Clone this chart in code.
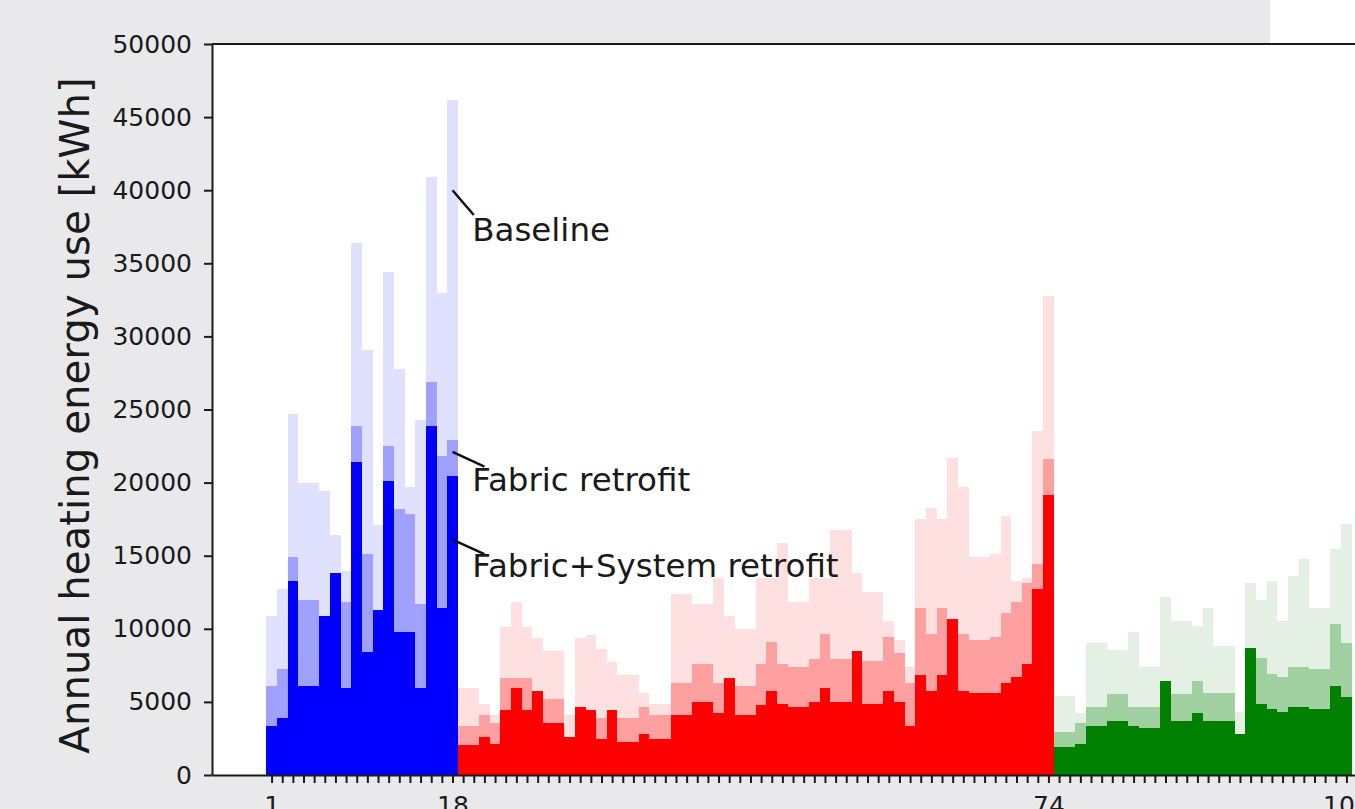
<!DOCTYPE html>
<html>
<head>
<meta charset="utf-8">
<script src="https://cdn.jsdelivr.net/npm/d3@7"></script>
<style>
  html, body { margin: 0; padding: 0; background: #ffffff; }
  svg { display: block; font-family: "DejaVu Sans", sans-serif; }
</style>
</head>
<body>
<div id="chart"></div>
<script>
// Data (annual heating energy use per building, kWh)
const blueBaseline = [10900, 12700, 24700, 19950, 19950, 19400, 16400, 13970, 36400, 29100, 17100, 34400, 27800, 19700, 24300, 40900, 33000, 46200];
const blueFabric   = [6100, 7230, 14900, 12000, 12000, 10900, 13800, 11800, 23900, 15100, 11300, 22500, 18200, 17850, 11700, 26900, 21800, 22900];
const blueSystem   = [3370, 3920, 13300, 6100, 6100, 10900, 13800, 5970, 21400, 8390, 11300, 20100, 9800, 9800, 5970, 23900, 11400, 20450];

const redBaseline = [5930, 5930, 4830, 4100, 10150, 11800, 10150, 9400, 8500, 8500, 4100, 9400, 9600, 8650, 7750, 6850,
  6840, 5590, 4830, 4830, 12360, 12360, 11670, 11670, 13450, 10900, 10000, 10000, 13450, 13450, 15850, 11800, 11800,
  13450, 13450, 16750, 16750, 13850, 12550, 12550, 10500, 9200, 7400, 17500, 18250, 17500, 21700, 19700, 14900, 14900,
  15100, 17700, 13300, 13450, 23550, 32750];
const redFabric = [3370, 3370, 4100, 3530, 6650, 6650, 6650, 5750, 5200, 5200, 2620, 4670, 4450, 3920, 4450, 3880,
  3880, 4670, 4080, 4080, 6270, 6270, 7570, 7570, 6270, 6660, 6090, 6090, 7570, 9070, 7590, 7410, 7410,
  7930, 9620, 7930, 7930, 8500, 7800, 7800, 9420, 8320, 6320, 11400, 9620, 11400, 10700, 9620, 9230, 9230,
  9420, 11100, 11850, 13100, 14400, 21600];
const redSystem = [2050, 2050, 2620, 2100, 4450, 5930, 4450, 5750, 3530, 3530, 2620, 4670, 4450, 2440, 4450, 2260,
  2260, 2800, 2440, 2440, 4080, 4080, 5000, 5000, 4260, 6660, 4080, 4080, 4810, 5770, 4830, 4670, 4670,
  5020, 5930, 5020, 5020, 8500, 4830, 4830, 5770, 5020, 3370, 6840, 5750, 6840, 10700, 5750, 5600, 5600,
  5600, 6270, 6680, 7570, 12700, 19150];

const greenBaseline = [5400, 5400, 4260, 9000, 9000, 8550, 8550, 9800, 7410, 7410, 12200, 10550, 10550, 10200,
  11450, 8850, 8850, 4300, 13100, 12000, 13300, 10550, 13600, 14750, 11450, 11450, 15450, 17150];
const greenFabric = [2960, 2960, 3530, 4630, 4630, 5540, 5540, 4630, 4630, 4630, 6000, 5540, 5540, 6450,
  5590, 5590, 5590, 2800, 8000, 7980, 6910, 6680, 7410, 7410, 7230, 7230, 10330, 9050];
const greenSystem = [1890, 1890, 2100, 3350, 3350, 3720, 3720, 3350, 3190, 3190, 6450, 3720, 3720, 4260,
  3720, 3720, 3720, 2800, 8710, 4860, 4490, 4310, 4670, 4670, 4490, 4490, 6110, 5360];

const xTickLabels = [1, 18, 74, 102];
const yTicks = d3.range(0, 50001, 5000);

const annotations = [
  { label: "Baseline", x: 18, y: 40000, lx: 20, ly: 38300, tx: 19.85, ty: 36500 },
  { label: "Fabric retrofit", x: 18, y: 22100, lx: 21, ly: 21100, tx: 19.85, ty: 19400 },
  { label: "Fabric+System retrofit", x: 18, y: 16100, lx: 21, ly: 15100, tx: 19.85, ty: 13550 }
];

const groups = [
  { name: "blue", colors: ["#e0e0ff", "#a0a0ff", "#0000ff"], series: [blueBaseline, blueFabric, blueSystem] },
  { name: "red", colors: ["#ffe0e0", "#ffa0a0", "#ff0000"], series: [redBaseline, redFabric, redSystem] },
  { name: "green", colors: ["#e3f0e3", "#a0d0a0", "#008000"], series: [greenBaseline, greenFabric, greenSystem] }
];

// flatten into one list of buildings
const buildings = [];
groups.forEach((g) => {
  g.series[0].forEach((v, i) => {
    buildings.push({
      id: buildings.length + 1,
      colors: g.colors,
      values: [g.series[0][i], g.series[1][i], g.series[2][i]]
    });
  });
});

// Dimensions
const dimensions = {
  width: 1355,
  height: 809,
  margin: { top: 44, left: 212, bottom: 34 },
  plotRight: 1406
};

const svg = d3
  .select("#chart")
  .append("svg")
  .attr("width", dimensions.width)
  .attr("height", dimensions.height);

// background (grey page, white corner top right)
svg.append("rect")
  .attr("width", dimensions.width)
  .attr("height", dimensions.height)
  .attr("fill", "#e9e9eb");
svg.append("rect")
  .attr("x", 1270)
  .attr("y", 0)
  .attr("width", dimensions.width - 1270)
  .attr("height", dimensions.margin.top)
  .attr("fill", "#ffffff");

const n = buildings.length;
const pad = 0.05 * n;

// Scales
const xScale = d3
  .scaleLinear()
  .domain([0.5 - pad, n + 0.5 + pad])
  .range([dimensions.margin.left, dimensions.plotRight]);

const yScale = d3
  .scaleLinear()
  .domain([0, 50000])
  .range([dimensions.height - dimensions.margin.bottom, dimensions.margin.top]);

const y0 = yScale(0);

// plot background
svg.append("rect")
  .attr("x", xScale.range()[0])
  .attr("y", yScale(50000))
  .attr("width", xScale.range()[1] - xScale.range()[0])
  .attr("height", y0 - yScale(50000))
  .attr("fill", "#ffffff");

// Bars: baseline, fabric, fabric+system drawn on top of each other
[0, 1, 2].forEach((k) => {
  svg.append("g")
    .selectAll("rect")
    .data(buildings)
    .join("rect")
    .attr("x", (d) => xScale(d.id - 0.5))
    .attr("width", (d) => xScale(d.id + 0.5) - xScale(d.id - 0.5))
    .attr("y", (d) => yScale(d.values[k]))
    .attr("height", (d) => y0 - yScale(d.values[k]))
    .attr("fill", (d) => d.colors[k])
    .attr("shape-rendering", "crispEdges");
});

// Axes
const xAxis = d3
  .axisBottom(xScale)
  .tickValues(d3.range(1, n + 1))
  .tickFormat((d) => (xTickLabels.includes(d) ? d : ""))
  .tickSize(8)
  .tickPadding(13)
  .tickSizeOuter(0);

const gx = svg.append("g")
  .attr("transform", `translate(0, ${y0})`)
  .call(xAxis);

const yAxis = d3
  .axisLeft(yScale)
  .tickValues(yTicks)
  .tickFormat(d3.format("d"))
  .tickSize(8)
  .tickPadding(12)
  .tickSizeOuter(0);

const gy = svg.append("g")
  .attr("transform", `translate(${dimensions.margin.left}, 0)`)
  .call(yAxis);

[gx, gy].forEach((g) => {
  g.attr("font-family", "DejaVu Sans").attr("font-size", 25);
  g.selectAll("text").attr("fill", "#1a1a1a");
  g.selectAll("line").attr("stroke", "#1a1a1a").attr("stroke-width", 2);
  g.select(".domain").attr("stroke", "#1a1a1a").attr("stroke-width", 2);
});

// top spine
svg.append("line")
  .attr("x1", xScale.range()[0])
  .attr("x2", xScale.range()[1])
  .attr("y1", yScale(50000))
  .attr("y2", yScale(50000))
  .attr("stroke", "#1a1a1a")
  .attr("stroke-width", 2);

// Y label
svg.append("text")
  .attr("transform", `translate(89, ${(y0 + yScale(50000)) / 2 + 6}) rotate(-90)`)
  .attr("text-anchor", "middle")
  .style("font-size", "40.3px")
  .attr("fill", "#1a1a1a")
  .text("Annual heating energy use [kWh]");

// Annotations
const ann = svg.append("g");
ann.selectAll("line")
  .data(annotations)
  .join("line")
  .attr("x1", (d) => xScale(d.x))
  .attr("y1", (d) => yScale(d.y))
  .attr("x2", (d) => xScale(d.lx))
  .attr("y2", (d) => yScale(d.ly))
  .attr("stroke", "#111")
  .attr("stroke-width", 2.5);
ann.selectAll("text")
  .data(annotations)
  .join("text")
  .attr("x", (d) => xScale(d.tx))
  .attr("y", (d) => yScale(d.ty))
  .style("font-size", "32.5px")
  .attr("fill", "#1a1a1a")
  .text((d) => d.label);
</script>
</body>
</html>
